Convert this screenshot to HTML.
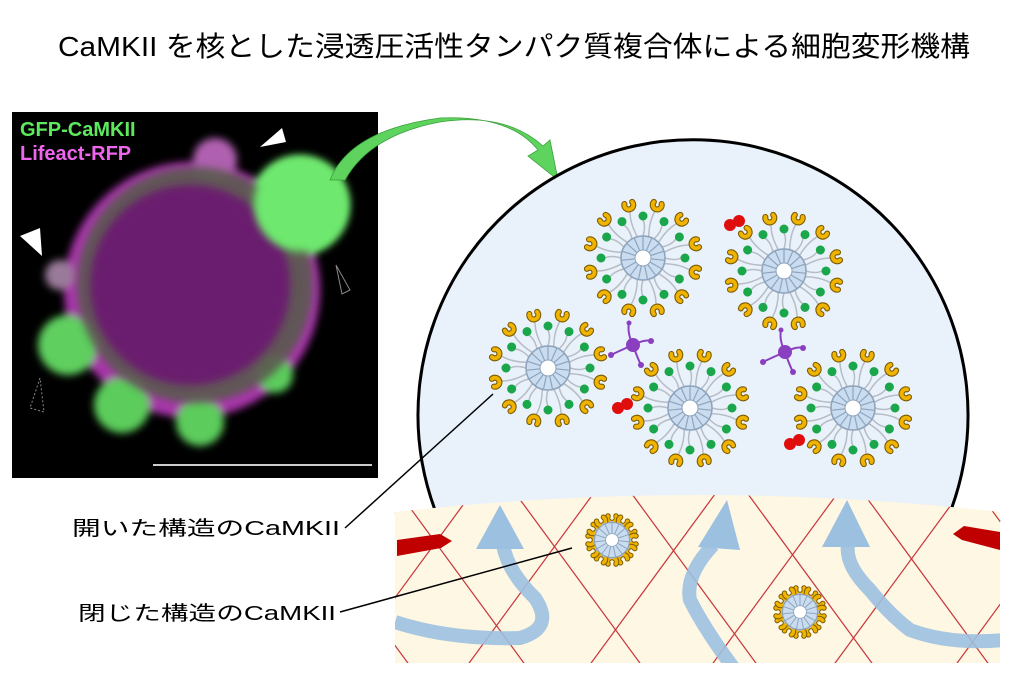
<!DOCTYPE html>
<html><head><meta charset="utf-8"><style>
html,body{margin:0;padding:0;background:#fff;width:1024px;height:684px;overflow:hidden}
svg{display:block}
</style></head><body>
<svg width="1024" height="684" viewBox="0 0 1024 684" xmlns="http://www.w3.org/2000/svg">
<defs>
 <g id="gs"><path d="M0,-22 Q3,-32 0,-38" stroke="#b8bcc4" stroke-width="1.5" fill="none"/><circle cx="0" cy="-42" r="4.5" fill="#1aa64a"/></g>
 <g id="ys"><path d="M0,-22 Q-4,-38 0,-50" stroke="#b8bcc4" stroke-width="1.5" fill="none"/><path d="M-4,-57 A4.5,4.5 0 1 0 4,-57" stroke="#7a5a00" stroke-width="6" fill="none" stroke-linecap="round"/><path d="M-4,-57 A4.5,4.5 0 1 0 4,-57" stroke="#f0b400" stroke-width="3.8" fill="none" stroke-linecap="round"/></g>
 <g id="hub"><circle r="22" fill="#c9dcf0" stroke="#8ea4bc" stroke-width="1.5"/>
  <g stroke="#8ea4bc" stroke-width="1.2">
  <line y1="-8" y2="-22"/><line y1="-8" y2="-22" transform="rotate(24)"/><line y1="-8" y2="-22" transform="rotate(48)"/><line y1="-8" y2="-22" transform="rotate(72)"/><line y1="-8" y2="-22" transform="rotate(96)"/><line y1="-8" y2="-22" transform="rotate(120)"/><line y1="-8" y2="-22" transform="rotate(144)"/><line y1="-8" y2="-22" transform="rotate(168)"/><line y1="-8" y2="-22" transform="rotate(192)"/><line y1="-8" y2="-22" transform="rotate(216)"/><line y1="-8" y2="-22" transform="rotate(240)"/><line y1="-8" y2="-22" transform="rotate(264)"/><line y1="-8" y2="-22" transform="rotate(288)"/><line y1="-8" y2="-22" transform="rotate(312)"/><line y1="-8" y2="-22" transform="rotate(336)"/></g>
  <circle r="8" fill="#fff" stroke="#8ea4bc" stroke-width="1"/></g>
 <g id="open">
  <use href="#gs"/><use href="#gs" transform="rotate(30)"/><use href="#gs" transform="rotate(60)"/><use href="#gs" transform="rotate(90)"/><use href="#gs" transform="rotate(120)"/><use href="#gs" transform="rotate(150)"/><use href="#gs" transform="rotate(180)"/><use href="#gs" transform="rotate(210)"/><use href="#gs" transform="rotate(240)"/><use href="#gs" transform="rotate(270)"/><use href="#gs" transform="rotate(300)"/><use href="#gs" transform="rotate(330)"/>
  <use href="#ys" transform="rotate(15)"/><use href="#ys" transform="rotate(45)"/><use href="#ys" transform="rotate(75)"/><use href="#ys" transform="rotate(105)"/><use href="#ys" transform="rotate(135)"/><use href="#ys" transform="rotate(165)"/><use href="#ys" transform="rotate(195)"/><use href="#ys" transform="rotate(225)"/><use href="#ys" transform="rotate(255)"/><use href="#ys" transform="rotate(285)"/><use href="#ys" transform="rotate(315)"/><use href="#ys" transform="rotate(345)"/>
  <use href="#hub"/></g>
 <g id="cy"><path d="M-4,-24 A4.5,4.5 0 1 0 4,-24" stroke="#7a5a00" stroke-width="5.5" fill="none" stroke-linecap="round"/><path d="M-4,-24 A4.5,4.5 0 1 0 4,-24" stroke="#f0b400" stroke-width="3.5" fill="none" stroke-linecap="round"/><rect x="-2" y="-19" width="4" height="4" fill="#b8bcc4"/></g>
 <g id="closed">
  <use href="#cy"/><use href="#cy" transform="rotate(30)"/><use href="#cy" transform="rotate(60)"/><use href="#cy" transform="rotate(90)"/><use href="#cy" transform="rotate(120)"/><use href="#cy" transform="rotate(150)"/><use href="#cy" transform="rotate(180)"/><use href="#cy" transform="rotate(210)"/><use href="#cy" transform="rotate(240)"/><use href="#cy" transform="rotate(270)"/><use href="#cy" transform="rotate(300)"/><use href="#cy" transform="rotate(330)"/>
  <g transform="scale(0.8)"><use href="#hub"/></g></g>
 <g id="purple" stroke="#8a3ec0" stroke-width="2" fill="none">
  <path d="M0,0 Q-6,-12 -4,-22"/><path d="M0,0 Q12,-6 18,-4"/><path d="M0,0 Q4,12 8,20"/><path d="M0,0 Q-14,6 -22,10"/>
  <g fill="#8a3ec0" stroke="none"><circle r="7"/><circle cx="-4" cy="-22" r="2.5"/><circle cx="18" cy="-4" r="3"/><circle cx="8" cy="20" r="3"/><circle cx="-22" cy="10" r="3"/></g></g>
 <g id="red" fill="#e00d0d"><circle cx="-5" cy="2" r="6"/><circle cx="4" cy="-2" r="6"/></g>
 <clipPath id="cream"><path d="M395,512 Q700,478 1000,512 L1000,663 L395,663 Z"/></clipPath>
 <filter id="blur"><feGaussianBlur stdDeviation="4"/></filter>
</defs>

<text x="58" y="56" font-family="Liberation Sans, Noto Sans CJK JP, sans-serif" font-size="28" textLength="912" lengthAdjust="spacingAndGlyphs" fill="#000">CaMKII を核とした浸透圧活性タンパク質複合体による細胞変形機構</text>

<rect x="12" y="112" width="366" height="366" fill="#000"/>
<g filter="url(#blur)">
 <circle cx="192" cy="290" r="128" fill="#c540c8" opacity="0.85"/>
 <circle cx="215" cy="160" r="22" fill="#b060b0"/>
 <circle cx="300" cy="205" r="50" fill="#6ee86e"/>
 <circle cx="68" cy="345" r="30" fill="#5fcf5f"/>
 <circle cx="122" cy="405" r="28" fill="#5ccc5c"/>
 <circle cx="200" cy="422" r="24" fill="#5ccc5c"/>
 <circle cx="275" cy="375" r="18" fill="#5ccc5c"/>
 <circle cx="60" cy="275" r="15" fill="#9a7a9a"/>
</g>
<circle cx="195" cy="285" r="118" fill="#5a5a50" opacity="0.9" filter="url(#blur)"/>
<circle cx="190" cy="285" r="100" fill="#6a1f6e" filter="url(#blur)"/>
<circle cx="300" cy="205" r="46" fill="#6ee86e" filter="url(#blur)"/>
<text x="20" y="136" font-family="Liberation Sans, sans-serif" font-weight="bold" font-size="20" fill="#5ee85e">GFP-CaMKII</text>
<text x="20" y="160" font-family="Liberation Sans, sans-serif" font-weight="bold" font-size="20" fill="#ee66ee">Lifeact-RFP</text>
<polygon points="260,147 282,128 286,142" fill="#fff"/>
<polygon points="20,236 40,228 42,256" fill="#fff"/>
<polygon points="336,265 350,290 342,294" fill="none" stroke="#888" stroke-width="1"/>
<polygon points="40,378 30,408 44,412" fill="none" stroke="#888" stroke-width="1" stroke-dasharray="2,2"/>
<line x1="153" y1="465" x2="372" y2="465" stroke="#ccc" stroke-width="2"/>

<path d="M330,180 Q350,130 440,118 Q510,115 538,150 L528,156 L558,180 L550,140 L543,146 Q505,112 440,122 Q370,135 345,180 Z" fill="#5ed35e" stroke="#3aa03a" stroke-width="0.8"/>

<path d="M435,510 A275,275 0 1 1 951,510 Z" fill="#e9f1fa"/>
<path d="M435,510 A275,275 0 1 1 951,510" fill="none" stroke="#000" stroke-width="3"/>
<polyline points="395,514 435,510" fill="none" stroke="#000" stroke-width="3"/>
<polyline points="951,510 1000,522" fill="none" stroke="#000" stroke-width="3"/>

<path d="M395,512 Q700,478 1000,512 L1000,663 L395,663 Z" fill="#fdf7e3"/>
<g clip-path="url(#cream)" stroke="#c8343a" stroke-width="1.2">
 <line x1="-36" y1="490" x2="96" y2="670"/><line x1="80" y1="490" x2="212" y2="670"/><line x1="165" y1="490" x2="297" y2="670"/><line x1="281" y1="490" x2="413" y2="670"/><line x1="397" y1="490" x2="529" y2="670"/><line x1="513" y1="490" x2="645" y2="670"/><line x1="629" y1="490" x2="761" y2="670"/><line x1="745" y1="490" x2="877" y2="670"/><line x1="861" y1="490" x2="993" y2="670"/><line x1="977" y1="490" x2="1109" y2="670"/>
 <line x1="352" y1="490" x2="220" y2="670"/><line x1="474" y1="490" x2="342" y2="670"/><line x1="596" y1="490" x2="464" y2="670"/><line x1="718" y1="490" x2="586" y2="670"/><line x1="840" y1="490" x2="708" y2="670"/><line x1="962" y1="490" x2="830" y2="670"/><line x1="1084" y1="490" x2="952" y2="670"/><line x1="1206" y1="490" x2="1074" y2="670"/>
</g>
<polygon points="397,540 440,534 452,541 441,548 397,556" fill="#c00000"/>
<polygon points="1000,532 964,526 953,534 962,540 1000,550" fill="#c00000"/>
<g clip-path="url(#cream)" fill="none" stroke="#9cc0e0" stroke-width="14" stroke-linecap="butt" opacity="0.9">
 <path d="M395,622 Q450,640 520,638 Q555,628 535,598 Q508,572 503,545"/>
 <path d="M735,670 Q705,630 690,600 Q685,575 713,545"/>
 <path d="M1005,640 Q950,645 910,630 Q890,615 870,590 Q845,565 848,545"/>
</g>
<g fill="#9cc0e0">
 <polygon points="500,505 476,549 524,549"/>
 <polygon points="727,500 698,547 740,550"/>
 <polygon points="847,500 822,547 870,547"/>
</g>

<use href="#open" transform="translate(643,258)"/>
<use href="#open" transform="translate(784,271)"/>
<use href="#open" transform="translate(548,368)"/>
<use href="#open" transform="translate(690,408)"/>
<use href="#open" transform="translate(853,408)"/>
<use href="#purple" transform="translate(633,345)"/>
<use href="#purple" transform="translate(785,352)"/>
<use href="#red" transform="translate(735,223)"/>
<use href="#red" transform="translate(623,406)"/>
<use href="#red" transform="translate(795,442)"/>
<use href="#closed" transform="translate(612,540)"/>
<use href="#closed" transform="translate(800,612)"/>

<line x1="345" y1="528" x2="493" y2="394" stroke="#000" stroke-width="1.5"/>
<line x1="340" y1="612" x2="572" y2="548" stroke="#000" stroke-width="1.5"/>
<text x="72" y="535" font-family="Liberation Sans, Noto Sans CJK JP, sans-serif" font-size="20" textLength="268" lengthAdjust="spacingAndGlyphs">開いた構造のCaMKII</text>
<text x="78" y="620" font-family="Liberation Sans, Noto Sans CJK JP, sans-serif" font-size="20" textLength="258" lengthAdjust="spacingAndGlyphs">閉じた構造のCaMKII</text>
</svg>
</body></html>
